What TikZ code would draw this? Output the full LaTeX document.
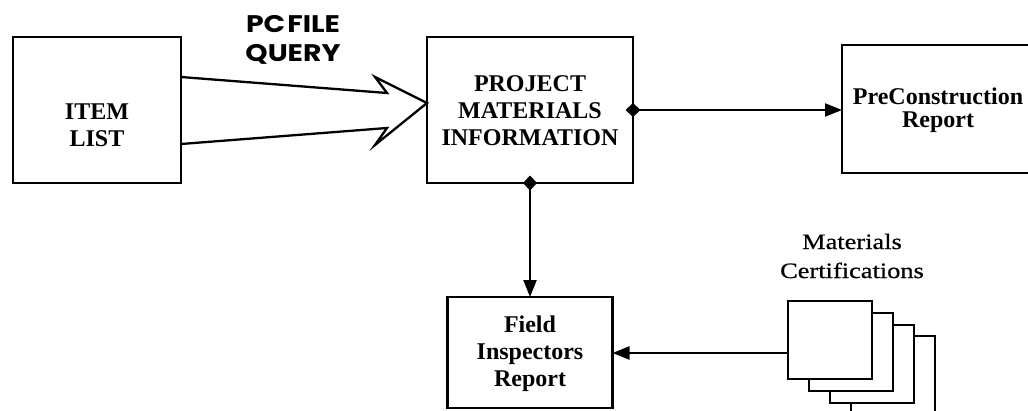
\documentclass[tikz,border=0pt]{standalone}
\usepackage{fontspec}
\setmainfont{Liberation Serif}
\newfontfamily\certfont[FakeStretch=1.2,FakeBold=0.6]{Liberation Serif}
\newfontfamily\geofont[FakeStretch=1.18]{Poppins}
\usetikzlibrary{arrows.meta,calc}
\begin{document}
\begin{tikzpicture}[x=1pt,y=-1pt,
  box/.style={draw, line width=2.3pt, fill=white, inner sep=0pt, outer sep=0pt},
  boxtext/.style={font=\bfseries\fontsize{24}{27}\selectfont, align=center, inner sep=0pt},
  conn/.style={line width=2.3pt},
  tri/.tip={Triangle[length=17pt,width=13pt]},
  dia/.tip={Diamond[length=15pt,width=14pt]},
  flow/.style={conn, dia-tri, shorten <=-7.5pt},
  feed/.style={conn, -tri}]
\useasboundingbox (0,0) rectangle (1028,410);
\clip (0,0) rectangle (1028,410);

% source box
\node[box, minimum width=168pt, minimum height=146pt] (item) at (97,110) {};
\node[boxtext] (itemtxt) at (97,125) {ITEM\\LIST};

% central box
\node[box, minimum width=206pt, minimum height=146pt] (pmi) at (530,110) {};
\node[boxtext] (pmitxt) at (530,111) {PROJECT\\MATERIALS\\INFORMATION};

% report boxes
\node[box, minimum width=192pt, minimum height=128pt] (pre) at (938,109) {};
\node[boxtext, font=\bfseries\fontsize{24}{23}\selectfont] (pretxt) at (938,110) {PreConstruction\\Report};

\node[box, minimum width=165pt, minimum height=111pt] (field) at (530,352.5) {};
\node[boxtext] (fieldtxt) at (530,354) {Field\\Inspectors\\Report};

% stack of certificate sheets, back to front
\node[box, minimum width=84pt, minimum height=78pt] (sheet4) at (893,375) {};
\node[box, minimum width=84pt, minimum height=78pt] (sheet3) at (872,364) {};
\node[box, minimum width=84pt, minimum height=78pt] (sheet2) at (851,352) {};
\node[box, minimum width=84pt, minimum height=78pt] (sheet1) at (830,340) {};
\node[font=\certfont\fontsize{22}{29}\selectfont, align=center, inner sep=0pt] (certtxt) at (852,256) {Materials\\Certifications};

% wide query arrow
\node[font=\geofont\bfseries\fontsize{24}{29}\selectfont, align=center, inner sep=0pt] (query) at (293,40) {PC\kern2pt FILE\\QUERY};
\draw[conn, line join=miter]
  ($(item.east)+(0,-33)$) -- ($(pmi.west)+(-40,-17)$) -- ($(pmi.west)+(-52,-33)$)
  -- ($(pmi.west)+(0,-7)$)
  -- ($(pmi.west)+(-52,35)$) -- ($(pmi.west)+(-40,18)$) -- ($(item.east)+(0,34)$);

% connectors
\draw[flow] (pmi.east) -- (pmi.east -| pre.west);
\draw[flow] (pmi.south) -- (pmi.south |- field.north);
\coordinate (certout) at ($(sheet1.west)+(0,13)$);
\draw[feed] (certout) -- (certout -| field.east);
\end{tikzpicture}
\end{document}
